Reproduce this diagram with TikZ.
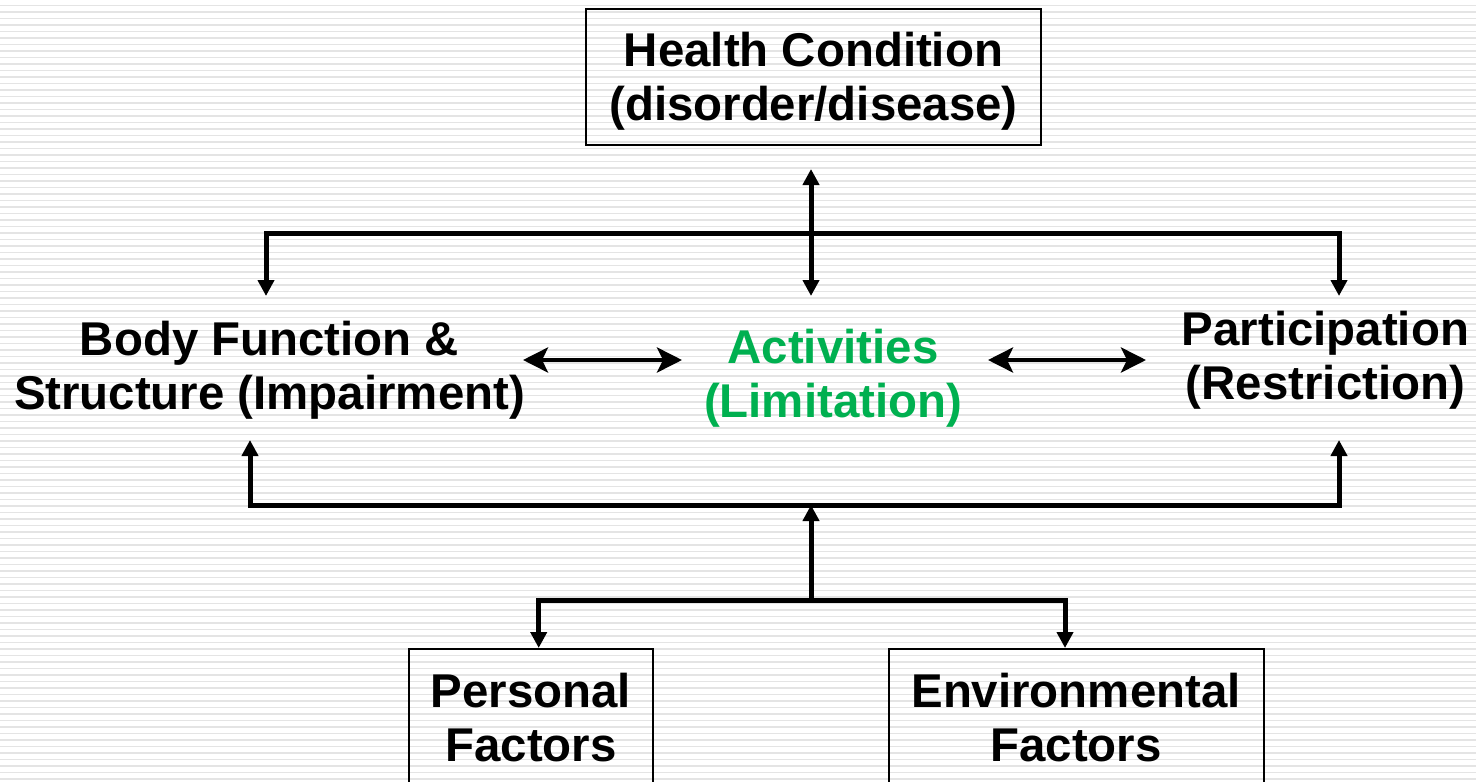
\documentclass[tikz,border=0pt]{standalone}
\usepackage{fontspec}
\setmainfont{Liberation Sans}
\usetikzlibrary{arrows.meta}
\definecolor{actgreen}{HTML}{00B050}
\definecolor{stripegray}{HTML}{E4E4E4}
\begin{document}
\begin{tikzpicture}[x=0.5pt,y=-0.5pt,
  tri/.tip={Triangle[length=8pt,width=8pt]},
  conn/.style={line width=2.5pt, line join=miter},
  dbl/.style={line width=2.2pt, {Stealth[length=12.5pt,width=12.5pt,inset=3pt]}-{Stealth[length=12.5pt,width=12.5pt,inset=3pt]}},
  lbl/.style={font=\bfseries\fontsize{23.7pt}{27pt}\selectfont, align=center, inner sep=0pt},
  boxstyle/.style={draw, line width=1.1pt, inner sep=0pt},
  stripe/.style={draw=stripegray, line width=0.75pt}]
\path[use as bounding box] (0,0) rectangle (1476,781);
\clip (0,0) rectangle (1476,781);
\fill[white] (0,0) rectangle (1476,781);
\foreach \i in {0,...,120} {\draw[stripe] (0,5.7+6.5*\i) -- (1476,5.7+6.5*\i);}

% boxes
\node[boxstyle, minimum width=227.5pt, minimum height=68pt] (hc) at (813.5,77) {};
\node[boxstyle, anchor=north, minimum width=122pt, minimum height=80pt] (pf) at (531,648) {};
\node[boxstyle, anchor=north, minimum width=187.5pt, minimum height=80pt] (ef) at (1076.5,648) {};

% texts
\node[lbl] (hct) at (813.5,81.7) {Health Condition\\(disorder/disease)};
\node[lbl] (bf) at (269.5,370.5) {Body Function \&\\Structure (Impairment)};
\node[lbl, text=actgreen] (act) at (833,378) {Activities\\(Limitation)};
\node[lbl] (par) at (1325.5,360) {Participation\\(Restriction)};
\node[lbl] (pft) at (531,717.3) {Personal\\Factors};
\node[lbl] (eft) at (1076,717.3) {Environmental\\Factors};

% coordinates
\coordinate (hcA) at (811,169);
\coordinate (actA) at (811,296);
\coordinate (tl) at (266,233);
\coordinate (tr) at (1339,233);
\coordinate (bfT) at (266,296);
\coordinate (parT) at (1339,296);
\coordinate (bfB) at (250,440);
\coordinate (bl) at (250,505);
\coordinate (br) at (1339,505);
\coordinate (parB) at (1339,440);
\coordinate (midB) at (811,505);
\coordinate (lowJ) at (811,600);
\coordinate (bfR) at (523,360);
\coordinate (actL) at (682,360);
\coordinate (actR) at (988,360);
\coordinate (parL) at (1146,360);

% connectors
\draw[conn, {tri}-{tri}] (hcA) -- (actA);
\draw[conn, {tri}-{tri}] (bfT) -- (tl) -- (tr) -- (parT);
\draw[conn, {tri}-{tri}] (bfB) -- (bl) -- (br) -- (parB);
\draw[conn, -{tri}] (lowJ) -- (midB);
\draw[conn, {tri}-{tri}] ([xshift=3.85pt]pf.north) |- (lowJ) -| ([xshift=-5.75pt]ef.north);
\draw[dbl] (bfR) -- (actL);
\draw[dbl] (actR) -- (parL);
\end{tikzpicture}
\end{document}
